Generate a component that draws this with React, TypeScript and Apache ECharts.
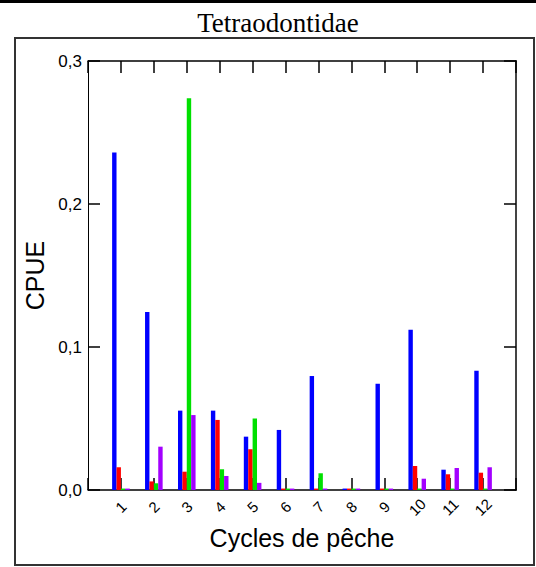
import React, { useEffect, useRef } from "react";
import * as echarts from "echarts";

const title = "Tetraodontidae";
const xTitle = "Cycles de pêche";
const yTitle = "CPUE";
const categories = ["1", "2", "3", "4", "5", "6", "7", "8", "9", "10", "11", "12"];
const yTickLabels = ["0,0", "0,1", "0,2", "0,3"];
const seriesNames = ["Série 1", "Série 2", "Série 3", "Série 4"];
const seriesColors = ["#0000ff", "#ff0000", "#00e000", "#a300ff"];

const blueValues = [0.236, 0.1245, 0.0555, 0.0555, 0.0373, 0.042, 0.0797, 0.001, 0.0743, 0.112, 0.0142, 0.0834];
const redValues = [0.0159, 0.006, 0.0128, 0.049, 0.0285, 0.001, 0.001, 0.001, 0.001, 0.0168, 0.011, 0.0121];
const greenValues = [0.001, 0.0047, 0.274, 0.0145, 0.05, 0.001, 0.0117, 0.001, 0.001, 0.001, 0.001, 0.001];
const purpleValues = [0.001, 0.0303, 0.0524, 0.0098, 0.005, 0.001, 0.001, 0.001, 0.001, 0.0079, 0.0154, 0.0159];

export default function App() {
  const ref = useRef<HTMLDivElement>(null);
  useEffect(() => {
    if (!ref.current) return;
    const chart = echarts.init(ref.current, undefined, { renderer: "svg" });
    const axisCats = ["", ...categories, ""];
    const allValues = [blueValues, redValues, greenValues, purpleValues];
    const tickStyle = () => ({ show: true, inside: true, length: 12, lineStyle: { color: "#000", width: 1.5 } });
    chart.setOption({
      animation: false,
      backgroundColor: "#fff",
      title: {
        text: title,
        left: 278,
        top: 9,
        textAlign: "center",
        padding: 0,
        textStyle: { fontFamily: "Liberation Serif", fontSize: 27, fontWeight: "normal", color: "#000" },
      },
      graphic: [
        { type: "rect", shape: { x: 0, y: 0, width: 536, height: 3 }, style: { fill: "#000" } },
        { type: "rect", shape: { x: 15, y: 38, width: 519, height: 527 }, style: { fill: "none", stroke: "#333", lineWidth: 2 } },
      ],
      grid: { left: 88, top: 61, right: 20, bottom: 77, containLabel: false },
      xAxis: [
        {
          type: "category",
          data: axisCats,
          boundaryGap: false,
          position: "bottom",
          name: xTitle,
          nameLocation: "middle",
          nameGap: 33,
          nameTextStyle: { fontFamily: "Liberation Sans", fontSize: 25, color: "#000" },
          axisLine: { show: true, onZero: false, lineStyle: { color: "#000", width: 1.5 } },
          axisTick: { ...tickStyle(), interval: 0 },
          axisLabel: {
            interval: 0,
            rotate: 45,
            align: "center",
            verticalAlign: "middle",
            margin: 17,
            fontFamily: "Liberation Sans",
            fontSize: 15,
            color: "#000",
          },
          splitLine: { show: false },
        },
        {
          type: "category",
          data: axisCats,
          boundaryGap: false,
          position: "top",
          axisLine: { show: true, onZero: false, lineStyle: { color: "#000", width: 1.5 } },
          axisTick: { ...tickStyle(), interval: 0 },
          axisLabel: { show: false },
          splitLine: { show: false },
        },
      ],
      yAxis: [
        {
          type: "value",
          min: 0,
          max: 0.3,
          interval: 0.1,
          position: "left",
          name: yTitle,
          nameLocation: "middle",
          nameGap: 34,
          nameRotate: 90,
          nameTextStyle: { fontFamily: "Liberation Sans", fontSize: 25, color: "#000" },
          axisLine: { show: true, onZero: false, lineStyle: { color: "#000", width: 1 } },
          axisTick: tickStyle(),
          axisLabel: {
            margin: 6,
            fontFamily: "Liberation Sans",
            fontSize: 17,
            color: "#000",
            formatter: (v: number) => yTickLabels[Math.round(v * 10)],
          },
          splitLine: { show: false },
        },
        {
          type: "value",
          min: 0,
          max: 0.3,
          interval: 0.1,
          position: "right",
          axisLine: { show: true, onZero: false, lineStyle: { color: "#444", width: 2 } },
          axisTick: tickStyle(),
          axisLabel: { show: false },
          splitLine: { show: false },
        },
      ],
      series: allValues.map((vals, i) => ({
        name: seriesNames[i],
        type: "bar",
        xAxisIndex: 0,
        yAxisIndex: 0,
        barWidth: 4.4,
        barGap: "0%",
        itemStyle: { color: seriesColors[i] },
        data: [null, ...vals, null],
      })),
    });
    return () => chart.dispose();
  }, []);
  return (
    <div
      ref={ref}
      style={{ position: "fixed", left: 0, top: 0, width: 536, height: 567, background: "#fff" }}
    />
  );
}
